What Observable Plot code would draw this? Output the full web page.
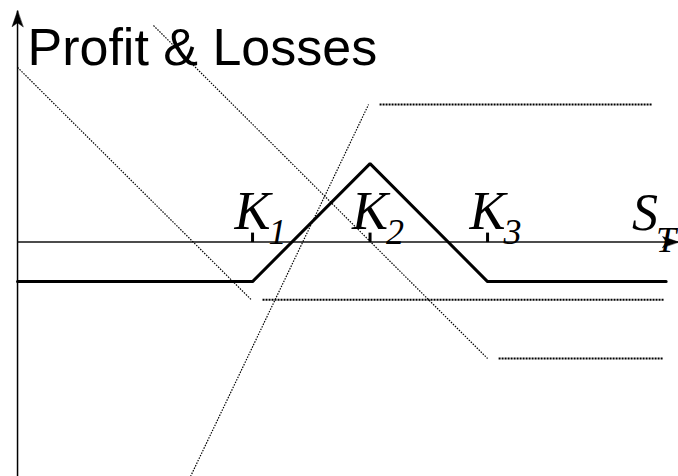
<!DOCTYPE html>
<html>
<head>
<meta charset="utf-8">
<script src="https://cdn.jsdelivr.net/npm/d3@7"></script>
<script src="https://cdn.jsdelivr.net/npm/@observablehq/plot@0.6"></script>
<style>
  html, body { margin: 0; padding: 0; background: #fff; }
  #chart svg { display: block; }
</style>
</head>
<body>
<div id="chart"></div>
<script>
// ---- data (stock price S_T on x, profit on y) ----
const title = "Profit & Losses";
const strikes = [40, 50, 60];
const strikeSubs = ["1", "2", "3"];
const axisLabel = "S";
const axisLabelSub = "T";
const axisLabelX = 73.4;

// butterfly payoff (thick line)
const payoffX = [20, 40, 50, 60, 75.2];
const payoffY = [-3.35, -3.35, 6.65, -3.35, -3.35];

// component legs (dotted): sloped part then flat part
const legSlopeX1 = [20, 31.57, 34.72];
const legSlopeY1 = [14.8, 18.35, -19.87];
const legSlopeX2 = [39.9, 60.0, 49.87];
const legSlopeY2 = [-4.9, -9.87, 11.65];
const legFlatX1 = [40.85, 60.94, 50.81];
const legFlatX2 = [75.05, 74.98, 74.04];
const legFlatY = [-4.9, -9.87, 11.65];

// axes
const axisOriginX = 20;
const xDomain = [18.55, 76.25];
const yDomain = [-19.87, 20.47];
const yAxisTop = 19.6;

const arrowHead = {
  draw(ctx, l) {
    ctx.moveTo(0, -l);
    ctx.lineTo(-5.5, -l + 16);
    ctx.lineTo(0, -l + 12);
    ctx.lineTo(5.5, -l + 16);
    ctx.closePath();
  }
};

const serif = "'Liberation Serif', 'Times New Roman', serif";

const chart = Plot.plot({
  width: 678,
  height: 476,
  margin: 0,
  x: {domain: xDomain, axis: null},
  y: {domain: yDomain, axis: null},
  style: {background: "#fff", color: "#000"},
  marks: [
    // axes
    Plot.link([0], {x1: axisOriginX, x2: axisOriginX, y1: yDomain[0], y2: yAxisTop, stroke: "#000", strokeWidth: 1.5}),
    Plot.link([0], {x1: axisOriginX, x2: xDomain[1], y1: 0, y2: 0, stroke: "#111", strokeWidth: 1.4}),
    Plot.vector([0], {x: axisOriginX, y: yAxisTop, length: 16, rotate: 0, anchor: "end", shape: arrowHead, fill: "#000", stroke: "#000", strokeWidth: 0.5}),
    Plot.vector([0], {x: xDomain[1], y: 0, length: 16, rotate: 90, anchor: "end", shape: arrowHead, fill: "#000", stroke: "#000", strokeWidth: 0.5}),
    // strike ticks
    Plot.link(strikes, {x1: d => d, x2: d => d, y1: 0, y2: 0.8, stroke: "#000", strokeWidth: 3}),
    // legs
    Plot.link(legSlopeX1, {x1: legSlopeX1, y1: legSlopeY1, x2: legSlopeX2, y2: legSlopeY2, stroke: "#000", strokeWidth: 1.2, strokeDasharray: "1.5,1.3"}),
    Plot.link(legFlatX1, {x1: legFlatX1, x2: legFlatX2, y1: legFlatY, y2: legFlatY, stroke: "#000", strokeWidth: 2, strokeDasharray: "2,1"}),
    // butterfly payoff
    Plot.line(payoffX, {x: payoffX, y: payoffY, stroke: "#000", strokeWidth: 3, strokeLinejoin: "miter"}),
    // labels
    Plot.text(strikes, {x: d => d, y: 0, text: () => "K", fontFamily: serif, fontStyle: "italic", fontSize: 54, textAnchor: "middle", lineAnchor: "bottom", dy: -13}),
    Plot.text(strikes, {x: d => d, y: 0, text: strikeSubs, fontFamily: serif, fontStyle: "italic", fontSize: 36, textAnchor: "start", lineAnchor: "bottom", dx: 16, dy: 2}),
    Plot.text([axisLabel], {x: axisLabelX, y: 0, text: d => d, fontFamily: serif, fontStyle: "italic", fontSize: 52, textAnchor: "middle", lineAnchor: "bottom", dy: -12}),
    Plot.text([axisLabelSub], {x: axisLabelX, y: 0, text: d => d, fontFamily: serif, fontStyle: "italic", fontSize: 36, textAnchor: "start", lineAnchor: "bottom", dx: 11, dy: 10}),
    Plot.text([title], {frameAnchor: "top-left", text: d => d, fontFamily: "'Liberation Sans', Arial, sans-serif", fontSize: 52, textAnchor: "start", lineAnchor: "bottom", dx: 27, dy: 64})
  ]
});
document.getElementById("chart").appendChild(chart);
</script>
</body>
</html>
